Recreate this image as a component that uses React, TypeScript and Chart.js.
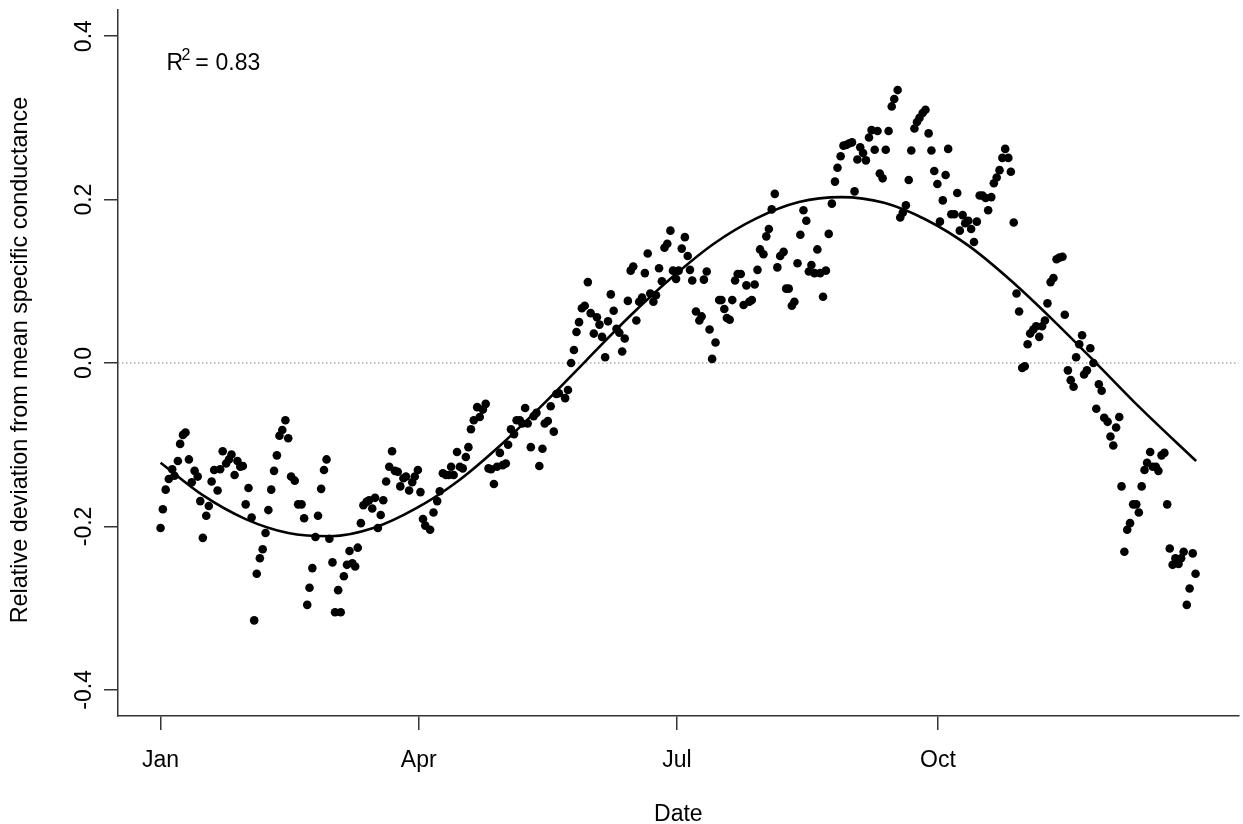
import React, { useEffect, useRef } from "react";
import { Chart, registerables } from "chart.js";

Chart.register(...registerables);

const dayOfYear = [
  1.0, 1.8, 2.8, 3.9, 5.1, 5.9, 7.1, 7.9, 8.9, 9.8,
  11.0, 12.0, 13.0, 14.1, 15.0, 15.9, 17.1, 18.0, 19.0, 19.9,
  21.1, 22.0, 22.9, 24.1, 25.1, 26.0, 27.1, 28.1, 29.1, 30.0,
  31.0, 32.0, 33.1, 34.0, 34.9, 36.0, 37.0, 38.0, 39.0, 40.0,
  41.0, 42.0, 42.9, 43.9, 45.0, 46.0, 47.0, 48.3, 49.5, 50.7,
  51.6, 52.7, 53.5, 54.5, 55.6, 56.5, 57.6, 58.6, 59.5, 60.5,
  61.6, 62.5, 63.6, 64.5, 65.6, 66.7, 67.6, 68.6, 69.6, 70.5,
  71.6, 72.5, 73.6, 74.5, 75.6, 76.6, 77.6, 78.6, 79.5, 80.5,
  81.6, 82.6, 83.6, 84.6, 85.5, 86.6, 87.5, 88.6, 89.7, 90.6,
  91.7, 92.6, 93.5, 94.3, 96.0, 97.2, 98.5, 99.4, 100.5, 101.6,
  102.6, 103.4, 104.3, 105.5, 106.5, 107.5, 108.6, 109.5, 110.4, 111.4,
  112.6, 113.5, 114.6, 115.6, 116.6, 117.5, 118.5, 119.6, 120.6, 121.6,
  122.7, 123.5, 124.5, 125.6, 126.5, 127.6, 128.5, 129.5, 130.4, 131.5,
  132.5, 133.5, 134.5, 135.6, 136.4, 137.5, 138.5, 139.6, 140.5, 141.4,
  143.6, 144.6, 145.7, 146.7, 147.6, 148.5, 149.5, 150.5, 151.6, 152.6,
  153.7, 154.8, 155.7, 156.6, 157.7, 158.7, 159.7, 160.7, 161.7, 162.7,
  163.7, 164.6, 165.7, 166.7, 167.6, 168.7, 169.7, 170.7, 171.7, 172.7,
  173.6, 174.7, 175.6, 176.7, 177.7, 178.6, 179.6, 180.7, 181.6, 182.7,
  183.6, 184.7, 185.8, 186.8, 187.6, 188.4, 189.7, 190.9, 191.7, 192.5,
  193.5, 194.5, 195.4, 196.6, 197.9, 198.7, 199.7, 200.6, 201.6, 202.5,
  203.5, 204.4, 205.5, 206.5, 207.5, 208.5, 209.4, 210.4, 211.4, 212.3,
  213.5, 214.5, 215.4, 216.4, 217.5, 218.4, 219.4, 220.6, 221.5, 222.4,
  223.5, 224.4, 225.5, 226.5, 227.6, 228.6, 229.5, 230.4, 231.5, 232.5,
  233.5, 234.5, 235.5, 236.5, 237.6, 238.7, 239.6, 240.7, 241.7, 242.8,
  243.8, 244.7, 245.6, 246.6, 247.6, 248.6, 249.6, 250.7, 251.6, 252.7,
  253.7, 254.5, 255.5, 256.6, 257.6, 258.7, 259.6, 260.8, 261.7, 262.6,
  263.7, 264.7, 265.6, 266.7, 267.6, 268.5, 269.6, 270.6, 271.7, 272.7,
  273.7, 274.8, 275.7, 276.7, 277.7, 278.6, 279.7, 280.8, 281.8, 282.7,
  283.7, 284.6, 285.7, 286.7, 287.7, 288.7, 289.7, 290.7, 291.8, 292.7,
  293.8, 294.7, 295.7, 296.7, 297.7, 298.7, 299.8, 300.7, 301.7, 302.7,
  303.6, 304.7, 305.6, 306.6, 307.5, 308.6, 309.6, 310.7, 311.7, 312.7,
  313.6, 314.7, 315.7, 316.8, 317.8, 318.9, 319.7, 320.8, 321.8, 322.8,
  323.7, 324.8, 325.8, 326.5, 327.5, 328.7, 329.8, 330.8, 331.7, 332.7,
  333.6, 334.8, 335.8, 336.8, 337.8, 338.9, 339.7, 340.7, 341.7, 342.7,
  343.8, 344.9, 345.8, 346.8, 347.8, 348.7, 349.8, 350.7, 351.8, 352.7,
  353.8, 354.8, 355.8, 356.7, 357.7, 358.7, 359.8, 360.7, 361.6, 362.7,
  363.7, 364.8, 365.8,
];

// Relative deviation from mean specific conductance, one per observation
const deviation = [
  -0.202, -0.179, -0.155, -0.142, -0.130, -0.138, -0.120, -0.099, -0.088, -0.085,
  -0.118, -0.146, -0.132, -0.139, -0.169, -0.214, -0.187, -0.175, -0.145, -0.131,
  -0.156, -0.130, -0.108, -0.123, -0.118, -0.112, -0.137, -0.120, -0.127, -0.126,
  -0.173, -0.153, -0.189, -0.315, -0.258, -0.239, -0.228, -0.208, -0.180, -0.155,
  -0.132, -0.113, -0.089, -0.082, -0.070, -0.092, -0.139, -0.144, -0.173, -0.173,
  -0.190, -0.296, -0.275, -0.251, -0.213, -0.187, -0.154, -0.131, -0.118, -0.215,
  -0.244, -0.305, -0.278, -0.305, -0.261, -0.247, -0.230, -0.245, -0.249, -0.226,
  -0.196, -0.174, -0.170, -0.168, -0.178, -0.165, -0.202, -0.186, -0.168, -0.145,
  -0.127, -0.108, -0.132, -0.133, -0.151, -0.141, -0.139, -0.156, -0.146, -0.139,
  -0.131, -0.158, -0.191, -0.199, -0.204, -0.183, -0.169, -0.157, -0.135, -0.137,
  -0.137, -0.127, -0.137, -0.109, -0.127, -0.129, -0.115, -0.103, -0.081, -0.070,
  -0.054, -0.066, -0.057, -0.050, -0.129, -0.130, -0.148, -0.127, -0.110, -0.125,
  -0.123, -0.100, -0.081, -0.087, -0.070, -0.070, -0.074, -0.055, -0.074, -0.103,
  -0.065, -0.061, -0.126, -0.105, -0.074, -0.071, -0.053, -0.084, -0.038, -0.037,
  -0.043, -0.033, 0.000, 0.016, 0.038, 0.050, 0.067, 0.070, 0.099, 0.061,
  0.036, 0.056, 0.047, 0.032, 0.007, 0.051, 0.084, 0.064, 0.042, 0.037,
  0.014, 0.030, 0.076, 0.113, 0.118, 0.052, 0.075, 0.080, 0.110, 0.134,
  0.085, 0.075, 0.083, 0.116, 0.100, 0.141, 0.146, 0.162, 0.113, 0.103,
  0.113, 0.140, 0.154, 0.131, 0.114, 0.101, 0.063, 0.052, 0.057, 0.102,
  0.112, 0.041, 0.005, 0.025, 0.077, 0.077, 0.066, 0.055, 0.053, 0.077,
  0.101, 0.109, 0.109, 0.071, 0.095, 0.075, 0.077, 0.096, 0.114, 0.139,
  0.133, 0.155, 0.164, 0.188, 0.207, 0.117, 0.131, 0.136, 0.091, 0.091,
  0.070, 0.075, 0.122, 0.157, 0.187, 0.174, 0.112, 0.120, 0.110, 0.139,
  0.110, 0.081, 0.113, 0.158, 0.195, 0.222, 0.239, 0.253, 0.266, 0.267,
  0.269, 0.270, 0.210, 0.249, 0.264, 0.257, 0.248, 0.276, 0.285, 0.261,
  0.284, 0.232, 0.226, 0.261, 0.284, 0.314, 0.323, 0.334, 0.178, 0.184,
  0.193, 0.224, 0.260, 0.287, 0.295, 0.300, 0.306, 0.310, 0.281, 0.260,
  0.235, 0.219, 0.173, 0.199, 0.230, 0.262, 0.182, 0.182, 0.208, 0.162,
  0.181, 0.171, 0.174, 0.164, 0.148, 0.173, 0.205, 0.205, 0.202, 0.187,
  0.203, 0.220, 0.227, 0.236, 0.251, 0.262, 0.251, 0.234, 0.172, 0.085,
  0.063, -0.006, -0.004, 0.023, 0.036, 0.041, 0.045, 0.032, 0.045, 0.052,
  0.073, 0.099, 0.104, 0.127, 0.129, 0.130, 0.059, -0.009, -0.021, -0.029,
  0.007, 0.023, 0.034, -0.014, -0.009, 0.018, 0.000, -0.056, -0.026, -0.034,
  -0.067, -0.072, -0.090, -0.101, -0.079, -0.066, -0.151, -0.231, -0.204, -0.196,
  -0.173, -0.173, -0.183, -0.151, -0.131, -0.122, -0.109, -0.127, -0.127, -0.132,
  -0.113, -0.110, -0.173, -0.227, -0.247, -0.239, -0.246, -0.239, -0.231, -0.296,
  -0.276, -0.233, -0.258,
];

// Fitted seasonal curve
const fitDays = [1, 16, 31, 46, 61, 76, 91, 106, 121, 136, 151, 166, 181, 196, 211, 226, 241, 256, 271, 286, 301, 316, 331, 346, 366];
const fitValues = [-0.122, -0.162, -0.191, -0.208, -0.212, -0.202, -0.178, -0.144, -0.100, -0.050, 0.003, 0.056, 0.104, 0.146, 0.177, 0.197, 0.203, 0.196, 0.175, 0.143, 0.100, 0.051, -0.001, -0.054, -0.120];

const xTickDays = [1, 92, 183, 275];
const xTickLabels = ["Jan", "Apr", "Jul", "Oct"];
const yTickValues = [-0.4, -0.2, 0, 0.2, 0.4];
const yTickLabels = ["-0.4", "-0.2", "0.0", "0.2", "0.4"];
const referenceLevel = [0];
const rSquaredText = "0.83";

const X_MIN = -14.0;
const X_MAX = 381.0;
const Y_MIN = -0.432;
const Y_MAX = 0.432;
const FONT = '"Liberation Sans", Arial, Helvetica, sans-serif';
const AXIS_COLOR = "#333333";

const textPlugin = {
  id: "rStyleText",
  afterDraw(chart: any) {
    const { ctx, chartArea, scales } = chart;
    const ys = scales.y;
    ctx.save();
    ctx.fillStyle = "#000";
    ctx.font = `23px ${FONT}`;
    ctx.textAlign = "center";
    ctx.textBaseline = "middle";
    yTickValues.forEach((v, i) => {
      const py = ys.getPixelForValue(v);
      ctx.save();
      ctx.translate(85, py);
      ctx.rotate(-Math.PI / 2);
      ctx.fillText(yTickLabels[i], 0, 0);
      ctx.restore();
    });
    ctx.save();
    ctx.translate(21, (chartArea.top + chartArea.bottom) / 2 - 3);
    ctx.rotate(-Math.PI / 2);
    ctx.font = `23.4px ${FONT}`;
    ctx.fillText("Relative deviation from mean specific conductance", 0, 0);
    ctx.restore();
    ctx.font = `23px ${FONT}`;
    ctx.fillText("Date", (chartArea.left + chartArea.right) / 2, 815);

    ctx.textAlign = "left";
    ctx.textBaseline = "alphabetic";
    ctx.font = `23px ${FONT}`;
    ctx.fillText("R", 166.5, 70);
    ctx.font = `16px ${FONT}`;
    ctx.fillText("2", 181.5, 60);
    ctx.font = `23px ${FONT}`;
    ctx.fillText("=", 195.3, 70);
    ctx.fillText(rSquaredText, 215.5, 70);
    ctx.restore();
  },
};

export default function App() {
  const canvasRef = useRef<HTMLCanvasElement | null>(null);

  useEffect(() => {
    if (!canvasRef.current) return;
    const points = dayOfYear.map((d, i) => ({ x: d, y: deviation[i] }));
    const curve = fitDays.map((d, i) => ({ x: d, y: fitValues[i] }));
    const zero = [
      { x: X_MIN, y: referenceLevel[0] },
      { x: X_MAX, y: referenceLevel[0] },
    ];
    const gridOpts = {
      display: true,
      drawOnChartArea: false,
      drawTicks: true,
      tickLength: 14,
      color: AXIS_COLOR,
      lineWidth: 1.5,
    };
    const borderOpts = { display: true, color: AXIS_COLOR, width: 1.5 };
    const chart = new Chart(canvasRef.current, {
      type: "scatter",
      data: {
        datasets: [
          {
            data: curve,
            showLine: true,
            pointRadius: 0,
            borderColor: "#000",
            borderWidth: 2.6,
            cubicInterpolationMode: "monotone",
            fill: false,
          } as any,
          {
            data: points,
            pointRadius: 4.3,
            pointBackgroundColor: "#000",
            pointBorderWidth: 0,
            borderColor: "#000",
            showLine: false,
          },
          {
            data: zero,
            showLine: true,
            pointRadius: 0,
            borderColor: "#808080",
            borderWidth: 1,
            borderDash: [1.5, 2.5],
            fill: false,
          },
        ],
      },
      options: {
        animation: false,
        responsive: false,
        devicePixelRatio: 1,
        events: [],
        layout: { padding: { left: 0, right: 3, top: 10, bottom: 0 } },
        plugins: {
          legend: { display: false },
          tooltip: { enabled: false },
          title: { display: false },
        },
        scales: {
          x: {
            type: "linear",
            min: X_MIN,
            max: X_MAX,
            afterBuildTicks: (s: any) => {
              s.ticks = xTickDays.map((v) => ({ value: v }));
            },
            afterFit: (s: any) => {
              s.height = 108;
            },
            ticks: {
              autoSkip: false,
              maxRotation: 0,
              minRotation: 0,
              padding: 17,
              color: "#000",
              font: { family: FONT, size: 23 },
              callback: (v: any) => {
                const i = xTickDays.indexOf(Number(v));
                return i >= 0 ? xTickLabels[i] : "";
              },
            },
            grid: gridOpts,
            border: borderOpts,
          },
          y: {
            type: "linear",
            min: Y_MIN,
            max: Y_MAX,
            afterBuildTicks: (s: any) => {
              s.ticks = yTickValues.map((v) => ({ value: v }));
            },
            afterFit: (s: any) => {
              s.width = 118;
            },
            ticks: { display: false },
            grid: gridOpts,
            border: borderOpts,
          },
        },
      } as any,
      plugins: [textPlugin],
    });
    return () => chart.destroy();
  }, []);

  return (
    <div style={{ position: "fixed", left: 0, top: 0, width: 1243, height: 824, background: "#fff" }}>
      <canvas ref={canvasRef} width={1243} height={824} style={{ display: "block", width: 1243, height: 824 }} />
    </div>
  );
}
